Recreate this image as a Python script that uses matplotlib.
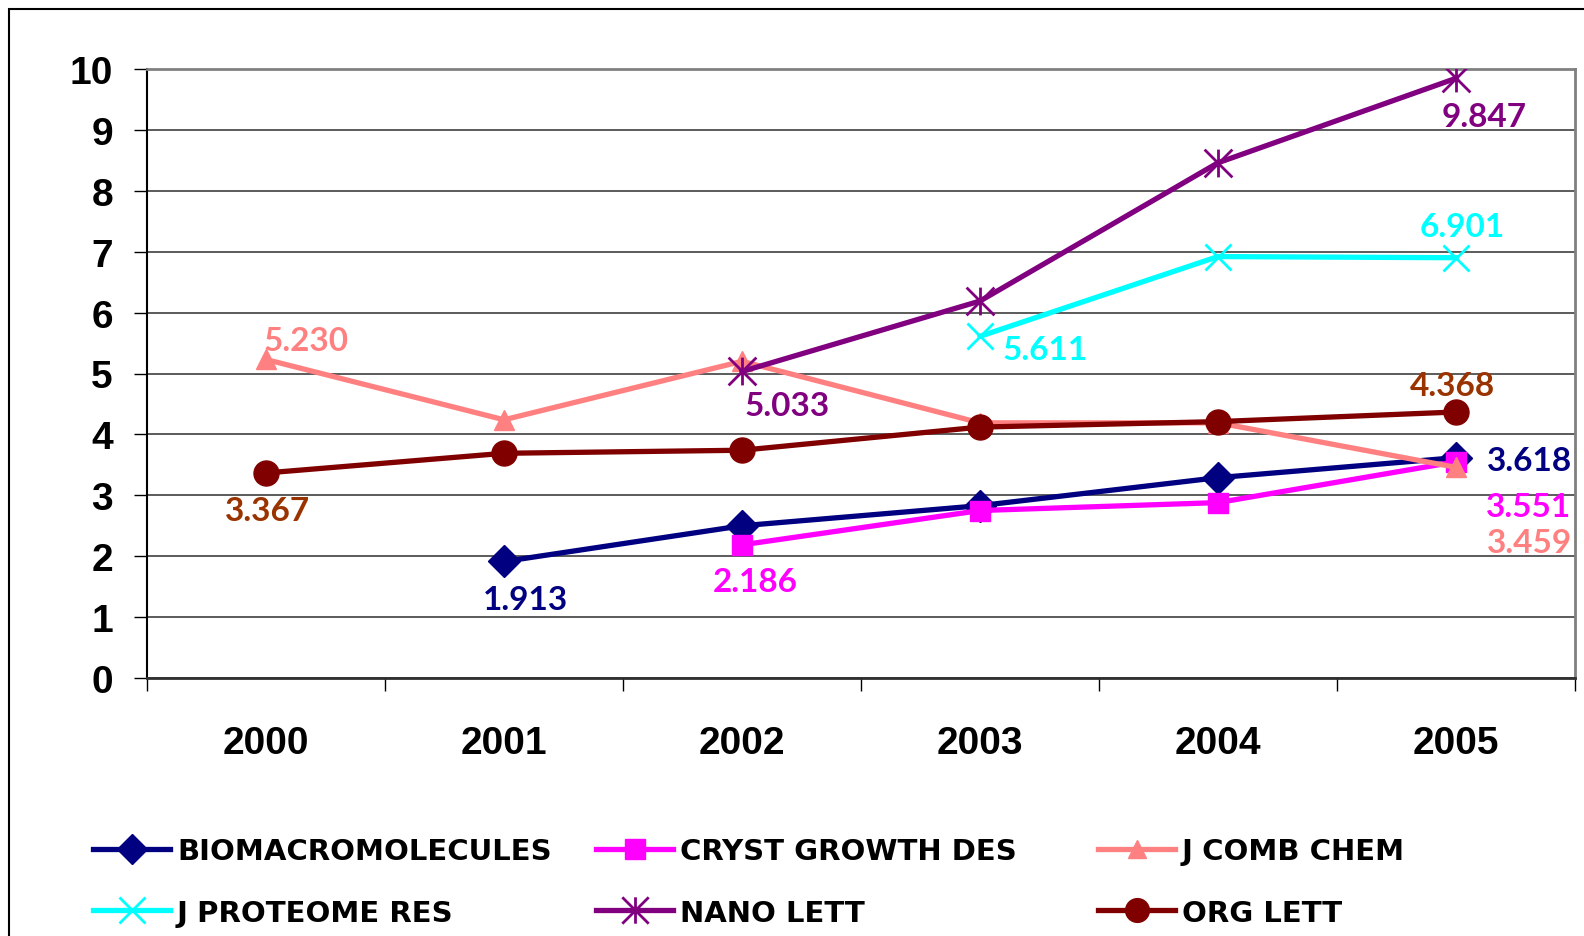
import numpy as np
import matplotlib
matplotlib.use('Agg')
import matplotlib.pyplot as plt
from matplotlib.path import Path
from matplotlib.patches import Rectangle

# Data
years = ['2000', '2001', '2002', '2003', '2004', '2005']
biomacro = [np.nan, 1.913, 2.50, 2.83, 3.29, 3.618]
cryst = [np.nan, np.nan, 2.186, 2.75, 2.88, 3.551]
jcomb = [5.230, 4.24, 5.20, 4.19, 4.19, 3.459]
jproteome = [np.nan, np.nan, np.nan, 5.611, 6.92, 6.901]
nano = [np.nan, np.nan, 5.033, 6.19, 8.46, 9.847]
orglett = [3.367, 3.69, 3.74, 4.12, 4.21, 4.368]

names = ['BIOMACROMOLECULES', 'CRYST GROWTH DES', 'J COMB CHEM',
         'J PROTEOME RES', 'NANO LETT', 'ORG LETT']

# labelled points: (series index, year index, text)
point_labels = [
    (0, 1, '1.913'), (0, 5, '3.618'),
    (1, 2, '2.186'), (1, 5, '3.551'),
    (2, 0, '5.230'), (2, 5, '3.459'),
    (3, 3, '5.611'), (3, 5, '6.901'),
    (4, 2, '5.033'), (4, 5, '9.847'),
    (5, 0, '3.367'), (5, 5, '4.368'),
]
# label offsets in pixels
label_offsets = [
    (21, -38), (74, -3),
    (13, -37), (73, -45),
    (40, 19), (74, -75),
    (65, -13), (6, 31),
    (45, -34), (28, -38),
    (2, -38), (-4, 26),
]

# Excel-like star marker: X with vertical bar
star_path = Path([(-1, -1), (1, 1), (-1, 1), (1, -1), (0, -1), (0, 1)],
                 [Path.MOVETO, Path.LINETO, Path.MOVETO, Path.LINETO,
                  Path.MOVETO, Path.LINETO])

styles = [
    dict(color='#000080', marker='D', ms=16),
    dict(color='#FF00FF', marker='s', ms=15),
    dict(color='#FF8080', marker='^', ms=14),
    dict(color='#00FFFF', marker='x', ms=19, mew=2),
    dict(color='#800080', marker=star_path, ms=20, mew=2),
    dict(color='#800000', marker='o', ms=18),
]
label_colors = ['#000080', '#FF00FF', '#FF8080', '#00FFFF', '#800080', '#993300']

series = [biomacro, cryst, jcomb, jproteome, nano, orglett]

fig = plt.figure(figsize=(15.84, 9.37), dpi=100)
ax = fig.add_axes([147/1584, 1 - 679/937, (1575-147)/1584, (679-70)/937])

x = np.arange(len(years))
handles = []
for s, st, name in zip(series, styles, names):
    h, = ax.plot(x, s, color=st['color'], lw=3.8, marker=st['marker'],
                 markersize=st['ms'], markeredgewidth=st.get('mew', 1),
                 markerfacecolor=st['color'], markeredgecolor=st['color'],
                 label=name, zorder=3)
    handles.append(h)

for (si, yi, txt), (dx, dy) in zip(point_labels, label_offsets):
    ax.annotate(txt, (x[yi], series[si][yi]), xytext=(dx, dy),
                textcoords='offset pixels', ha='center', va='center',
                color=label_colors[si], fontsize=24, fontweight='bold',
                family='Lato', zorder=5)

ax.set_xlim(-0.5, 5.5)
ax.set_ylim(0, 10)
ax.set_yticks(range(0, 11))
ax.set_xticks(x)
ax.set_xticklabels(years)
ax.set_xticks(np.arange(-0.5, 6, 1), minor=True)
ax.tick_params(axis='x', which='major', length=0, pad=34)
ax.tick_params(axis='x', which='minor', length=9.5, width=1, direction='out')
ax.tick_params(axis='y', length=9.5, width=1, pad=15)
for lab in ax.get_xticklabels() + ax.get_yticklabels():
    lab.set_family('Liberation Sans')
    lab.set_fontweight('bold')
    lab.set_fontsize(28)

ax.yaxis.grid(True, color='#404040', lw=1.2)
ax.set_axisbelow(True)
ax.spines['left'].set_color('black')
ax.spines['left'].set_linewidth(1.5)
ax.spines['bottom'].set_color('#303030')
ax.spines['bottom'].set_linewidth(2)
ax.spines['top'].set_color('#808080')
ax.spines['top'].set_linewidth(2)
ax.spines['right'].set_color('#808080')
ax.spines['right'].set_linewidth(2)

# outer chart border
fig.add_artist(Rectangle((9/1584, -0.05), 1.0, 1 - 10/937 + 0.05,
                         transform=fig.transFigure, fill=False,
                         edgecolor='black', lw=1.5))

# legend: three columns, two rows
col_x = [93/1584, 596/1584, 1098/1584]
for c in range(3):
    leg = fig.legend([handles[c], handles[c + 3]], [names[c], names[c + 3]],
                     loc='upper left', bbox_to_anchor=(col_x[c], 1 - 838/937),
                     frameon=False, handlelength=2.64, handletextpad=0.24,
                     labelspacing=1.15, borderaxespad=0, borderpad=0,
                     prop={'family': 'DejaVu Sans', 'weight': 'bold', 'size': 21},
                     markerscale=0.95)

fig.savefig('out.png', dpi=100)
